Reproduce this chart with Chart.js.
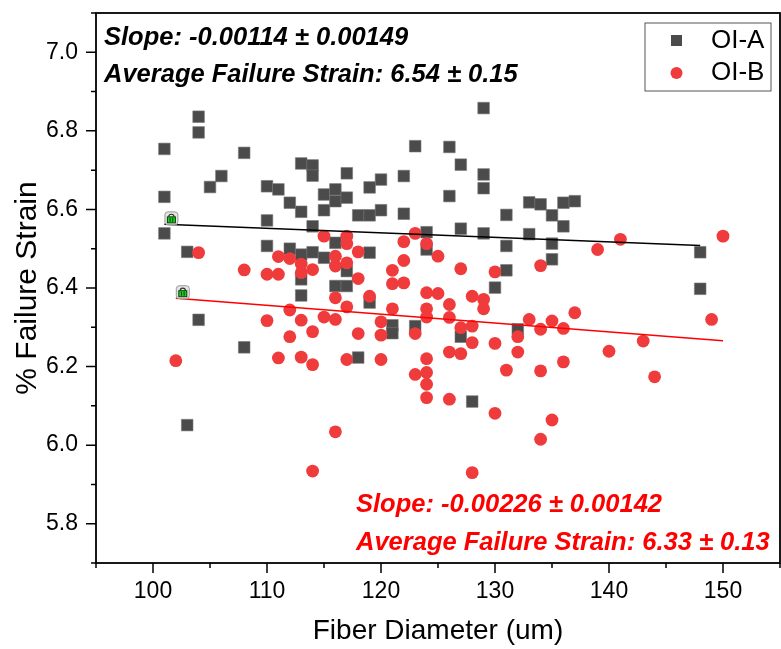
<!DOCTYPE html>
<html>
<head>
<meta charset="utf-8">
<script src="https://cdn.jsdelivr.net/npm/chart.js@4.4.1/dist/chart.umd.min.js"></script>
<style>
  html, body { margin: 0; padding: 0; background: #fff; }
  canvas { display: block; }
</style>
</head>
<body>
<canvas id="chart" width="781" height="649"></canvas>
<script>
const seriesNames = ['OI-A', 'OI-B'];

// OI-A (squares)
const oiaX = [104, 104, 101, 108, 106, 105, 101, 101, 103, 104, 108, 103,
    123, 113, 114, 114, 117, 110, 111, 120, 122, 119, 115, 116, 116, 117, 115, 112, 113, 118, 119, 120, 122, 110, 114, 124, 110, 112, 113, 114, 115, 116, 117, 119, 124, 113, 116, 117,
    113, 119, 121, 121, 123, 118,
    129, 126, 127, 129, 129, 126, 133, 134, 131, 136, 137, 135, 136, 127, 129, 133, 131, 135, 135, 131, 130,
    127, 132, 128, 148, 148];
const oiaY = [6.836, 6.796, 6.754, 6.744, 6.685, 6.657, 6.632, 6.539, 6.492, 6.319, 6.249, 6.051,
    6.761, 6.717, 6.712, 6.686, 6.692, 6.659, 6.651, 6.676, 6.685, 6.656, 6.638, 6.651, 6.621, 6.630, 6.598, 6.617, 6.594, 6.585, 6.585, 6.598, 6.589, 6.572, 6.557, 6.542, 6.507, 6.500, 6.485, 6.491, 6.477, 6.515, 6.443, 6.490, 6.498, 6.422, 6.405, 6.405,
    6.381, 6.363, 6.305, 6.285, 6.303, 6.223,
    6.858, 6.759, 6.714, 6.689, 6.654, 6.634, 6.618, 6.613, 6.586, 6.617, 6.621, 6.585, 6.557, 6.551, 6.539, 6.537, 6.507, 6.513, 6.473, 6.445, 6.401,
    6.276, 6.295, 6.111, 6.491, 6.398];

// OI-B (circles)
const oibX = [104, 108, 110, 102, 110,
    115, 117, 117, 123, 122, 124, 118, 111, 112, 113, 116, 116, 117, 122, 113, 114, 111, 121, 118, 121, 122, 124,
    112, 113, 114, 112, 115, 116, 116, 117, 118, 119, 120, 120, 121, 124, 124, 123, 111, 113, 114, 117, 120, 124, 123, 124, 124, 124, 116, 114,
    125, 127, 130, 134, 139,
    125, 126, 126, 128, 129, 129, 127, 128, 128, 130, 126, 127, 132, 132, 133, 134, 135, 136, 137, 131, 134, 136, 126, 130, 135, 134, 128,
    140, 149, 143, 144, 141, 150];
const oibY = [6.490, 6.446, 6.435, 6.215, 6.317,
    6.532, 6.532, 6.513, 6.539, 6.518, 6.513, 6.492, 6.480, 6.475, 6.461, 6.481, 6.456, 6.464, 6.470, 6.439, 6.447, 6.435, 6.445, 6.424, 6.411, 6.413, 6.388,
    6.344, 6.318, 6.289, 6.276, 6.326, 6.320, 6.375, 6.352, 6.284, 6.379, 6.314, 6.280, 6.347, 6.347, 6.326, 6.284, 6.222, 6.224, 6.205, 6.218, 6.218, 6.220, 6.180, 6.185, 6.155, 6.121, 6.034, 5.934,
    6.481, 6.449, 6.441, 6.457, 6.498,
    6.386, 6.358, 6.325, 6.379, 6.371, 6.347, 6.299, 6.303, 6.261, 6.259, 6.237, 6.233, 6.276, 6.237, 6.320, 6.295, 6.316, 6.297, 6.337, 6.191, 6.189, 6.212, 6.117, 6.081, 6.064, 6.015, 5.930,
    6.239, 6.320, 6.265, 6.174, 6.524, 6.532];

// linear fits (end points)
const fitAX = [101, 148];
const fitAY = [6.562, 6.508];
const fitBX = [102, 150];
const fitBY = [6.374, 6.266];

const xTickValues = [95, 100, 105, 110, 115, 120, 125, 130, 135, 140, 145, 150, 155];
const xTickLabels = ['100', '110', '120', '130', '140', '150'];
const yTickValues = [5.7, 5.8, 5.9, 6.0, 6.1, 6.2, 6.3, 6.4, 6.5, 6.6, 6.7, 6.8, 6.9, 7.0, 7.1];
const yTickLabels = ['5.8', '6.0', '6.2', '6.4', '6.6', '6.8', '7.0'];

const notesA = ['Slope: -0.00114 ± 0.00149', 'Average Failure Strain: 6.54 ± 0.15'];
const notesB = ['Slope: -0.00226 ± 0.00142', 'Average Failure Strain: 6.33 ± 0.13'];

const grayColor = '#4b4b4b';
const redColor = '#ef3b3b';
const fontFamily = '"Liberation Sans", Arial, sans-serif';

const toPoints = (xs, ys) => xs.map((x, i) => ({ x: x, y: ys[i] }));

function drawLock(ctx, cx, cy) {
    ctx.save();
    ctx.fillStyle = '#e4e4e4';
    ctx.strokeStyle = '#9a9a9a';
    ctx.lineWidth = 1;
    ctx.beginPath();
    ctx.roundRect(cx - 6.5, cy - 6.5, 13, 13, 3);
    ctx.fill();
    ctx.stroke();
    ctx.strokeStyle = '#333';
    ctx.lineWidth = 1.2;
    ctx.beginPath();
    ctx.arc(cx, cy - 1.5, 2.6, Math.PI, 0);
    ctx.stroke();
    ctx.fillStyle = '#1fd11f';
    ctx.fillRect(cx - 4, cy - 1.5, 8, 6);
    ctx.strokeStyle = '#0b3d0b';
    ctx.lineWidth = 1;
    ctx.strokeRect(cx - 4, cy - 1.5, 8, 6);
    ctx.beginPath();
    ctx.moveTo(cx - 1.3, cy - 0.5); ctx.lineTo(cx - 1.3, cy + 3.5);
    ctx.moveTo(cx + 1.3, cy - 0.5); ctx.lineTo(cx + 1.3, cy + 3.5);
    ctx.stroke();
    ctx.restore();
}

const decor = {
    id: 'decor',
    afterDraw(chart) {
        const { ctx, chartArea: a, scales: { x, y } } = chart;
        ctx.save();

        // tick marks (major long, minor short)
        ctx.strokeStyle = '#000';
        ctx.lineWidth = 1.5;
        ctx.beginPath();
        x.ticks.forEach(t => {
            const px = x.getPixelForValue(t.value);
            ctx.moveTo(px, a.bottom);
            ctx.lineTo(px, a.bottom + (t.label ? 10 : 5));
        });
        y.ticks.forEach(t => {
            const py = y.getPixelForValue(t.value);
            ctx.moveTo(a.left, py);
            ctx.lineTo(a.left - (t.label ? 10 : 5), py);
        });
        ctx.stroke();

        // frame
        ctx.lineWidth = 1.8;
        ctx.strokeRect(a.left, a.top, a.right - a.left, a.bottom - a.top);

        // lock icons at fit starts
        drawLock(ctx, x.getPixelForValue(fitAX[0]) + 7, y.getPixelForValue(fitAY[0]) - 6);
        drawLock(ctx, x.getPixelForValue(fitBX[0]) + 7, y.getPixelForValue(fitBY[0]) - 6);

        // annotations
        ctx.font = 'italic bold 25.5px ' + fontFamily;
        ctx.textBaseline = 'middle';
        ctx.textAlign = 'left';
        ctx.fillStyle = '#000';
        ctx.fillText(notesA[0], a.left + 8, a.top + 25);
        ctx.fillText(notesA[1], a.left + 8, a.top + 62);
        ctx.fillStyle = '#ff0000';
        ctx.fillText(notesB[0], a.left + 260, a.bottom - 58);
        ctx.fillText(notesB[1], a.left + 260, a.bottom - 20);

        // legend
        const lx = a.right - 135, ly = a.top + 10;
        ctx.strokeStyle = '#555';
        ctx.lineWidth = 1;
        ctx.strokeRect(lx, ly, 126, 68);
        const ds = chart.data.datasets;
        ctx.fillStyle = ds[0].backgroundColor;
        ctx.fillRect(lx + 26, ly + 12, 11, 11);
        ctx.fillStyle = ds[1].backgroundColor;
        ctx.beginPath();
        ctx.arc(lx + 31.5, ly + 50, 6, 0, Math.PI * 2);
        ctx.fill();
        ctx.font = '26px ' + fontFamily;
        ctx.fillStyle = '#000';
        ctx.fillText(ds[0].label, lx + 66, ly + 18);
        ctx.fillText(ds[1].label, lx + 66, ly + 50);

        ctx.restore();
    }
};

new Chart(document.getElementById('chart'), {
    type: 'scatter',
    data: {
        datasets: [
            {
                label: seriesNames[0],
                data: toPoints(oiaX, oiaY),
                pointStyle: 'rect',
                pointRadius: 8.2,
                backgroundColor: grayColor,
                borderColor: '#777',
                borderWidth: 0.6,
                order: 3
            },
            {
                label: seriesNames[1],
                data: toPoints(oibX, oibY),
                pointStyle: 'circle',
                pointRadius: 6.4,
                backgroundColor: redColor,
                borderColor: redColor,
                borderWidth: 0,
                order: 2
            },
            {
                label: 'fitA',
                data: toPoints(fitAX, fitAY),
                showLine: true,
                pointRadius: 0,
                borderColor: '#000',
                borderWidth: 1.5,
                order: 1
            },
            {
                label: 'fitB',
                data: toPoints(fitBX, fitBY),
                showLine: true,
                pointRadius: 0,
                borderColor: '#ff0000',
                borderWidth: 1.5,
                order: 0
            }
        ]
    },
    options: {
        responsive: false,
        animation: false,
        events: [],
        layout: { autoPadding: false, padding: { top: 13, right: 1, bottom: 0, left: 0 } },
        plugins: {
            legend: { display: false },
            tooltip: { enabled: false }
        },
        scales: {
            x: {
                type: 'linear',
                min: 95,
                max: 155,
                afterBuildTicks: s => { s.ticks = xTickValues.map(v => ({ value: v })); },
                afterFit: s => {
                    s.height = 86;
                    s.paddingLeft = 0;
                    s.paddingRight = 0;
                },
                ticks: {
                    autoSkip: false,
                    maxRotation: 0,
                    padding: 5,
                    color: '#000',
                    font: { family: fontFamily, size: 23 },
                    callback: v => xTickLabels.includes(String(v)) ? String(v) : ''
                },
                grid: { drawOnChartArea: false, color: 'transparent', tickLength: 10 },
                border: { display: false },
                title: {
                    display: true,
                    text: 'Fiber Diameter (um)',
                    color: '#000',
                    font: { family: fontFamily, size: 28 },
                    padding: { top: 0, bottom: 1 }
                }
            },
            y: {
                type: 'linear',
                min: 5.7,
                max: 7.1,
                afterBuildTicks: s => { s.ticks = yTickValues.map(v => ({ value: v })); },
                afterFit: s => {
                    s.width = 96;
                    s.paddingTop = 0;
                    s.paddingBottom = 0;
                },
                ticks: {
                    autoSkip: false,
                    padding: 8,
                    color: '#000',
                    font: { family: fontFamily, size: 23 },
                    callback: v => yTickLabels.includes(v.toFixed(1)) ? v.toFixed(1) : ''
                },
                grid: { drawOnChartArea: false, color: 'transparent', tickLength: 10 },
                border: { display: false },
                title: {
                    display: true,
                    text: '% Failure Strain',
                    color: '#000',
                    font: { family: fontFamily, size: 30 },
                    padding: { top: 10, bottom: 0 }
                }
            }
        }
    },
    plugins: [decor]
});
</script>
</body>
</html>
